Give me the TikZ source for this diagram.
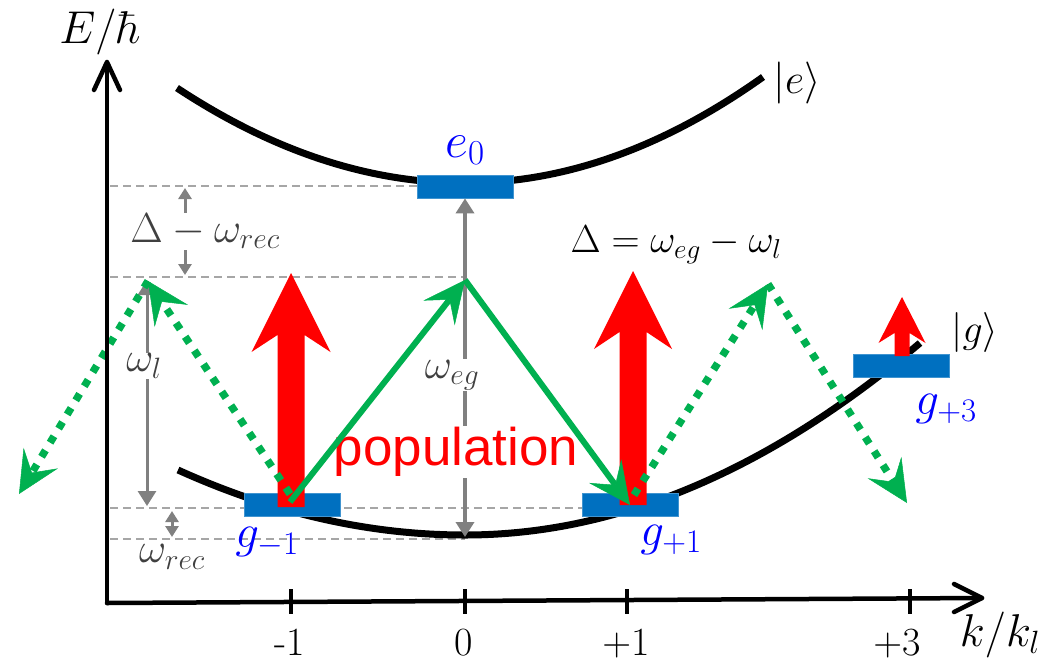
\RequirePackage{fix-cm}
\documentclass[tikz,border=0pt]{standalone}
\usepackage{fontspec}
\newfontfamily\popfont{Liberation Sans}
\usetikzlibrary{arrows.meta}
\newcommand{\fsz}[1]{\fontsize{#1}{#1}\selectfont}
\definecolor{gblue}{HTML}{0070C0}
\definecolor{lgreen}{HTML}{00B050}
\definecolor{dgray}{HTML}{808080}
\definecolor{lgray}{HTML}{A6A6A6}
\definecolor{tgray}{HTML}{404040}
\begin{document}
\begin{tikzpicture}[x=1pt,y=-1pt,
  axis/.style={line width=4.5pt, line cap=round, line join=round},
  tick/.style={line width=4pt},
  parab/.style={line width=7pt},
  level/.style={fill=gblue, draw=gblue!75!white, line width=0.8pt, minimum width=96pt, minimum height=23pt, inner sep=0pt},
  guide/.style={lgray, line width=2pt, dash pattern=on 8pt off 5pt},
  gapbig/.style={dgray, line width=3.5pt, {Triangle[length=15pt,width=18pt]}-{Triangle[length=15pt,width=18pt]}},
  gapsmall/.style={dgray, line width=3pt, {Triangle[length=11pt,width=13pt]}-{Triangle[length=11pt,width=13pt]}},
  glab/.style={text=tgray, fill=white, inner sep=1pt},
  gtip/.style={-{Stealth[length=42pt,width=40pt,inset=17pt,line width=0.5pt]}},
  gsolid/.style={lgreen, line width=6pt, gtip},
  gdot/.style={lgreen, line width=7.5pt, dash pattern=on 7.5pt off 9pt, gtip},
  lvl/.style={text=blue},
  tlab/.style={anchor=base, inner sep=0pt},
  redarr/.style={fill=red}
]
\useasboundingbox (0,0) rectangle (1052,662);

% guide lines
\draw[guide] (110,186) -- (417,186);
\draw[guide] (110,277) -- (465,277);
\draw[guide] (110,508) -- (582,508);
\draw[guide] (110,539) -- (465,539);

% parabolas
\draw[parab] (177,88) .. controls (273,151.3) and (369,183) .. (465,183)
  .. controls (564.3,183) and (663.7,147.7) .. (763,77);
\draw[parab] (178,470) .. controls (273.7,513.3) and (369.3,535) .. (465,535)
  .. controls (616.7,535) and (768.3,471) .. (920,343);

% levels
\node[level] (e0) at (465,186.5) {};
\node[level] (gm1) at (292,505) {};
\node[level] (gp1) at (630.5,505) {};
\node[level] (gp3) at (901.5,366) {};

% gray arrows
\coordinate (dwt) at (185,188);
\coordinate (dwb) at (185,275);
\draw[gapsmall] (dwt) -- (dwb);
\node[glab] (ldw) at (205,231) {\fsz{42}$\Delta-\omega_{rec}$};

\coordinate (wlt) at (147,280);
\coordinate (wlb) at (147,506);
\draw[gapbig, line width=3pt] (wlt) -- (wlb);
\node[glab] (lwl) at (144,366) {\fsz{42}$\omega_l$};

\coordinate (wrt) at (172,511);
\coordinate (wrb) at (172,537);
\draw[gapsmall] (wrt) -- (wrb);
\node[text=tgray] (lwr) at (172,557) {\fsz{42}$\omega_{rec}$};

\coordinate (wegb) at (465,537);
\draw[gapbig] (e0.south) -- (wegb);
\node[glab] (lweg) at (452,375) {\fsz{42}$\omega_{eg}$};
\node[text=red, fill=white, inner sep=1pt] (pop) at (456,452) {\popfont\fsz{53}population};

% red arrows
\fill[redarr] (277.5,507) -- (277.5,335) -- (251.5,352) -- (291,273) -- (330.5,352) -- (304.5,335) -- (304.5,507) -- cycle;
\fill[redarr] (619.5,505) -- (619.5,332) -- (594,349) -- (633,271) -- (672,349) -- (646.5,332) -- (646.5,505) -- cycle;
\fill[redarr] (894.5,356) -- (894.5,333) -- (878.5,343) -- (902,297) -- (925.5,343) -- (909.5,333) -- (909.5,356) -- cycle;

% green arrows
\coordinate (s1) at (290,502);
\coordinate (t0) at (465,280);
\coordinate (s2) at (630,505);
\coordinate (d1) at (290,494);
\coordinate (l1) at (148,281);
\coordinate (l2) at (19,494);
\coordinate (r0) at (634,495);
\coordinate (r1) at (768,284);
\coordinate (r2) at (907,503);
\draw[gsolid] (s1) -- (t0);
\draw[gsolid] (t0) -- (s2);
\draw[gdot] (d1) -- (l1);
\draw[gdot] (l1) -- (l2);
\draw[gdot] (r0) -- (r1);
\draw[gdot] (r1) -- (r2);

% axes
\coordinate (O) at (107,603);
\coordinate (ytip) at (107,62);
\coordinate (xtip) at (982,598);
\draw[axis] (O) -- (ytip);
\draw[axis] (ytip) ++(-13,28) -- (ytip) -- ++(13,28);
\draw[axis] (O) -- (xtip);
\draw[axis] (xtip) ++(-28,-14) -- (xtip) -- ++(-28,14);
\foreach \x in {291,465,627,910} \draw[tick] (\x,589) -- (\x,614);

% labels
\node[inner sep=0pt] (lE) at (100,32) {\fsz{46}$E/\hbar$};
\node[inner sep=1pt] (lk) at (1000,635) {\fsz{46}$k/k_l$};
\node (le) at (797,83) {\fsz{42}$|e\rangle$};
\node (lg) at (975,332) {\fsz{40}$|g\rangle$};
\node[lvl] (le0) at (465,150) {\fsz{50}$e_0$};
\node[lvl] (lgm1) at (267,542) {\fsz{47}$g_{-1}$};
\node[lvl] (lgp1) at (671,540) {\fsz{47}$g_{+1}$};
\node[lvl] (lgp3) at (946,409) {\fsz{47}$g_{+3}$};
\node (ldelta) at (676,245) {\fsz{39}$\Delta=\omega_{eg}-\omega_l$};
\node[tlab] (t1) at (290,655) {\fsz{40}-1};
\node[tlab] (t2) at (464,655) {\fsz{40}0};
\node[tlab] (t3) at (626,655) {\fsz{40}$+1$};
\node[tlab] (t4) at (897,655) {\fsz{40}$+3$};
\end{tikzpicture}
\end{document}
